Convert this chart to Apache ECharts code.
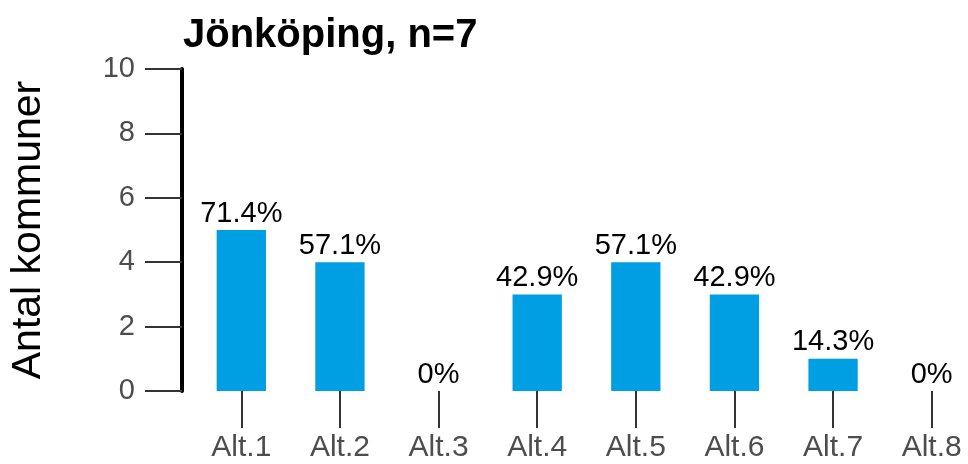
<!DOCTYPE html>
<html>
<head>
<meta charset="utf-8">
<script src="https://cdn.jsdelivr.net/npm/echarts@6/dist/echarts.min.js"></script>
<style>html,body{margin:0;padding:0;background:#fff}#c{width:968px;height:464px}</style>
</head>
<body>
<div id="c"></div>
<script>
const categories = ['Alt.1','Alt.2','Alt.3','Alt.4','Alt.5','Alt.6','Alt.7','Alt.8'];
const counts = [5, 4, 0, 3, 4, 3, 1, 0];
const percentLabels = ['71.4%','57.1%','0%','42.9%','57.1%','42.9%','14.3%','0%'];
const yTicks = [0, 2, 4, 6, 8, 10];
const titleText = 'Jönköping, n=7';
const yName = 'Antal kommuner';

const chart = echarts.init(document.getElementById('c'), null, {renderer: 'canvas'});
const font = 'Liberation Sans, Arial, sans-serif';
chart.setOption({
  animation: false,
  backgroundColor: '#ffffff',
  title: {
    text: titleText, left: 178, top: 11,
    textStyle: {fontFamily: font, fontSize: 40, fontWeight: 'bold', color: '#000'}
  },
  grid: {left: 192, top: 69, width: 789, bottom: 73, outerBoundsMode: 'none', containLabel: false},
  xAxis: {
    type: 'category', data: categories,
    axisLine: {show: false},
    axisTick: {show: true, alignWithLabel: true, length: 37, lineStyle: {color: '#333', width: 2}},
    axisLabel: {fontFamily: font, fontSize: 30, color: '#4d4d4d', margin: 42}
  },
  yAxis: {
    type: 'value', min: yTicks[0], max: yTicks[yTicks.length-1], interval: 2,
    offset: 10,
    name: yName, nameLocation: 'middle', nameGap: 133,
    nameTextStyle: {fontFamily: font, fontSize: 41, color: '#000'},
    axisLine: {show: true, lineStyle: {color: '#000', width: 4}},
    axisTick: {show: true, length: 37, lineStyle: {color: '#333', width: 2}},
    axisLabel: {fontFamily: font, fontSize: 29, color: '#4d4d4d', margin: 47},
    splitLine: {show: false}
  },
  series: [{
    type: 'bar', data: counts, barWidth: '50%',
    itemStyle: {color: '#009FE3'},
    label: {
      show: true, position: 'top', distance: 2,
      fontFamily: font, fontSize: 29, color: '#000',
      formatter: p => percentLabels[p.dataIndex]
    }
  }]
});
</script>
</body>
</html>
